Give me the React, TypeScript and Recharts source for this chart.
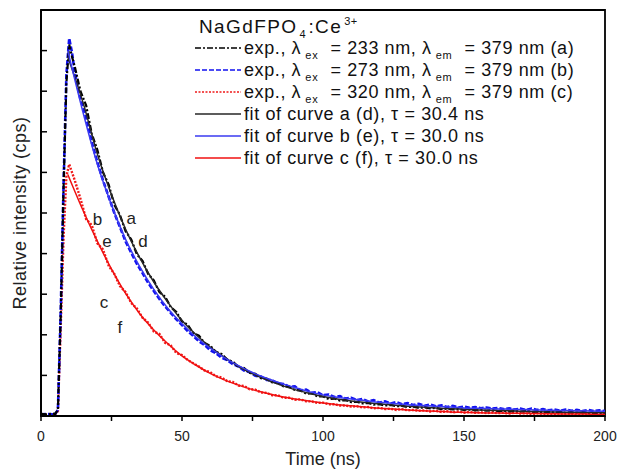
import { LineChart, Line, XAxis, YAxis, Legend, ReferenceDot, ReferenceArea } from 'recharts';

// time grid of the measured decays (ns)
const expTime = [
  0, 2, 4, 5, 6, 7, 8, 9, 10, 11,
  12, 14, 16, 18, 20, 22, 24, 26, 28, 30,
  32, 34, 36, 38, 40, 42, 44, 46, 48, 50,
  52, 54, 56, 58, 60, 62, 64, 66, 68, 70,
  72, 74, 76, 78, 80, 82, 84, 86, 88, 90,
  92, 94, 96, 98, 100, 102, 104, 106, 108, 110,
  112, 114, 116, 118, 120, 122, 124, 126, 128, 130,
  132, 134, 136, 138, 140, 142, 144, 146, 148, 150,
  152, 154, 156, 158, 160, 162, 164, 166, 168, 170,
  172, 174, 176, 178, 180, 182, 184, 186, 188, 190,
  192, 194, 196, 198, 200,
];

// exp. curve a (λex = 233 nm)
const expA = [
  0.05, 0.04, 0.06, 0.05, 0.15, 2.5, 5.6, 8.2, 9.15, 8.85,
  8.6, 8.0, 7.65, 6.95, 6.55, 6.0, 5.7, 5.2, 4.95, 4.55,
  4.35, 3.98, 3.82, 3.5, 3.34, 3.05, 2.94, 2.68, 2.56, 2.33,
  2.25, 2.04, 1.98, 1.8, 1.73, 1.58, 1.53, 1.39, 1.34, 1.21,
  1.18, 1.06, 1.04, 0.93, 0.92, 0.83, 0.82, 0.73, 0.72, 0.64,
  0.63, 0.55, 0.56, 0.48, 0.48, 0.42, 0.43, 0.38, 0.39, 0.34,
  0.35, 0.31, 0.32, 0.28, 0.29, 0.26, 0.27, 0.24, 0.25, 0.22,
  0.23, 0.2, 0.21, 0.19, 0.2, 0.17, 0.18, 0.16, 0.17, 0.15,
  0.16, 0.14, 0.15, 0.13, 0.14, 0.12, 0.13, 0.11, 0.12, 0.11,
  0.12, 0.1, 0.11, 0.09, 0.1, 0.09, 0.1, 0.08, 0.09, 0.08,
  0.09, 0.07, 0.08, 0.07, 0.08,
];

// exp. curve b (λex = 273 nm)
const expB = [
  0.04, 0.05, 0.04, 0.05, 0.15, 2.6, 5.7, 8.4, 9.3, 8.95,
  8.45, 7.8, 7.35, 6.75, 6.25, 5.8, 5.4, 5.0, 4.65, 4.3,
  4.02, 3.75, 3.52, 3.28, 3.08, 2.88, 2.7, 2.54, 2.38, 2.24,
  2.09, 1.97, 1.84, 1.75, 1.62, 1.55, 1.44, 1.38, 1.28, 1.22,
  1.12, 1.08, 0.99, 0.97, 0.89, 0.88, 0.8, 0.79, 0.72, 0.73,
  0.63, 0.65, 0.57, 0.59, 0.51, 0.53, 0.47, 0.49, 0.43, 0.45,
  0.39, 0.42, 0.36, 0.39, 0.33, 0.36, 0.31, 0.34, 0.29, 0.32,
  0.27, 0.3, 0.25, 0.28, 0.24, 0.26, 0.22, 0.25, 0.21, 0.23,
  0.2, 0.22, 0.19, 0.21, 0.18, 0.2, 0.17, 0.19, 0.16, 0.18,
  0.15, 0.18, 0.15, 0.17, 0.14, 0.16, 0.13, 0.16, 0.13, 0.15,
  0.12, 0.15, 0.12, 0.14, 0.12,
];

// exp. curve c (λex = 320 nm)
const expC = [
  0.03, 0.04, 0.03, 0.04, 0.12, 2.2, 4.4, 5.9, 6.2, 6.0,
  5.8, 5.35, 4.85, 4.7, 4.25, 4.1, 3.7, 3.5, 3.2, 3.05,
  2.78, 2.65, 2.42, 2.3, 2.08, 2.02, 1.8, 1.74, 1.55, 1.5,
  1.38, 1.3, 1.22, 1.12, 1.08, 0.98, 0.95, 0.86, 0.84, 0.75,
  0.74, 0.66, 0.65, 0.58, 0.57, 0.51, 0.51, 0.45, 0.45, 0.4,
  0.41, 0.36, 0.36, 0.32, 0.33, 0.29, 0.29, 0.26, 0.26, 0.23,
  0.24, 0.21, 0.22, 0.19, 0.2, 0.17, 0.18, 0.15, 0.17, 0.14,
  0.15, 0.13, 0.14, 0.11, 0.13, 0.1, 0.12, 0.09, 0.11, 0.08,
  0.1, 0.08, 0.09, 0.07, 0.09, 0.07, 0.08, 0.06, 0.08, 0.06,
  0.07, 0.05, 0.07, 0.05, 0.06, 0.05, 0.06, 0.04, 0.06, 0.04,
  0.05, 0.04, 0.05, 0.03, 0.05,
];

// fitted decays
const fitTime = [
  9.5, 15, 20, 25, 30, 35, 40, 45, 50, 55,
  60, 65, 70, 75, 80, 85, 90, 95, 100, 105,
  110, 115, 120, 125, 130, 135, 140, 145, 150, 155,
  160, 165, 170, 175, 180, 185, 190, 195, 200,
];
const fitD = [
  8.85, 7.7, 6.45, 5.45, 4.6, 3.9, 3.3, 2.8, 2.35, 2.0,
  1.7, 1.45, 1.22, 1.04, 0.89, 0.76, 0.65, 0.56, 0.48, 0.42,
  0.37, 0.33, 0.3, 0.27, 0.24, 0.22, 0.2, 0.18, 0.165, 0.15,
  0.14, 0.13, 0.12, 0.11, 0.1, 0.095, 0.09, 0.085, 0.08,
];
const fitE = [
  9.0, 7.45, 6.2, 5.2, 4.35, 3.68, 3.12, 2.65, 2.27, 1.94,
  1.67, 1.44, 1.24, 1.07, 0.93, 0.81, 0.7, 0.6, 0.52, 0.46,
  0.42, 0.38, 0.34, 0.31, 0.28, 0.26, 0.24, 0.22, 0.2, 0.19,
  0.18, 0.17, 0.16, 0.15, 0.14, 0.135, 0.13, 0.125, 0.12,
];
const fitF = [
  5.95, 5.05, 4.3, 3.62, 3.02, 2.52, 2.12, 1.78, 1.48, 1.25,
  1.05, 0.89, 0.76, 0.65, 0.56, 0.48, 0.42, 0.37, 0.32, 0.28,
  0.25, 0.22, 0.19, 0.17, 0.15, 0.13, 0.12, 0.1, 0.09, 0.08,
  0.075, 0.07, 0.065, 0.06, 0.055, 0.05, 0.05, 0.045, 0.04,
];

const xTicks = [0, 25, 50, 75, 100, 125, 150, 175, 200];
const yTicks = [1, 2, 3, 4, 5, 6, 7, 8, 9];

const excitation = ['233', '273', '320'];
const fitTaus = ['30.4', '30.0', '30.0'];
const curveLetters = ['a', 'b', 'c'];
const fitLetters = ['d', 'e', 'f'];

// curve tags written next to the curves
const tags = [
  { text: 'b', t: 20, v: 4.85 },
  { text: 'a', t: 32, v: 4.88 },
  { text: 'e', t: 23.4, v: 4.3 },
  { text: 'd', t: 36.2, v: 4.3 },
  { text: 'c', t: 22.3, v: 2.8 },
  { text: 'f', t: 28, v: 2.2 },
];

const expRows = expTime.map((t, i) => ({ t, a: expA[i], b: expB[i], c: expC[i] }));
const fitRows = fitTime.map((t, i) => ({ t, d: fitD[i], e: fitE[i], f: fitF[i] }));

const FONT = '"Liberation Sans", Arial, Helvetica, sans-serif';
const expStyle = [
  { color: '#000000', dash: '6 2 2 2' },
  { color: '#1010f0', dash: '5 2' },
  { color: '#f01818', dash: '2 1.5' },
];
const fitColors = ['#262626', '#3a3af0', '#f01010'];

const subStyle = { fontSize: 11, position: 'relative' as const, top: 5, lineHeight: 0, margin: '0 12px 0 4px', letterSpacing: 0.8 };

function YTick(props: any) {
  const { x, y } = props;
  return <line x1={x} x2={x + 6} y1={y} y2={y} stroke="#000" strokeWidth={1.5} />;
}

function LegendBox() {
  return (
    <div style={{ fontFamily: FONT, fontSize: 18, color: '#111', lineHeight: '22px', letterSpacing: 0.6 }}>
      <div style={{ paddingLeft: 4, height: 19, lineHeight: '18px', fontSize: 19, letterSpacing: 1.4 }}>
        NaGdFPO<span style={{ ...subStyle, margin: '0 2px 0 2px' }}>4</span>:Ce
        <span style={{ fontSize: 11, position: 'relative', top: -8, lineHeight: 0, letterSpacing: 0.5, marginLeft: 2 }}>3+</span>
      </div>
      {excitation.map((ex, i) => (
        <div key={'e' + i} style={{ display: 'flex', alignItems: 'center', height: 22 }}>
          <svg width={46} height={10} style={{ marginRight: 3 }}>
            <line x1={0} y1={5} x2={46} y2={5} stroke={expStyle[i].color} strokeWidth={1.5} strokeDasharray={expStyle[i].dash} />
          </svg>
          <span style={{ whiteSpace: 'nowrap' }}>
            exp., λ<span style={subStyle}>ex</span>= {ex} nm, λ<span style={subStyle}>em</span>= 379 nm ({curveLetters[i]})
          </span>
        </div>
      ))}
      {fitTaus.map((tau, i) => (
        <div key={'f' + i} style={{ display: 'flex', alignItems: 'center', height: 22 }}>
          <svg width={46} height={10} style={{ marginRight: 3 }}>
            <line x1={0} y1={5} x2={46} y2={5} stroke={fitColors[i]} strokeWidth={1.5} />
          </svg>
          <span style={{ whiteSpace: 'nowrap' }}>
            fit of curve {curveLetters[i]} ({fitLetters[i]}), τ = {tau} ns
          </span>
        </div>
      ))}
    </div>
  );
}

export default function App() {
  return (
    <div style={{ position: 'absolute', left: 0, top: 0, width: 619, height: 472, background: '#fff' }}>
      <LineChart width={619} height={472} data={expRows} margin={{ top: 10, right: 14, bottom: 2, left: 0 }}>
        <XAxis
          dataKey="t"
          type="number"
          domain={[0, 200]}
          ticks={xTicks}
          tickFormatter={(v: number) => (v % 50 === 0 ? String(v) : '')}
          tick={{ fill: '#222', fontSize: 14, fontFamily: FONT }}
          tickSize={5}
          tickMargin={10}
          height={54}
          axisLine={{ stroke: '#000', strokeWidth: 1.8 }}
          tickLine={{ stroke: '#000', strokeWidth: 1.5 }}
          allowDataOverflow
          label={{ value: 'Time (ns)', position: 'insideBottom', offset: 5, fill: '#222', fontSize: 18, fontFamily: FONT }}
        />
        <YAxis
          type="number"
          domain={[0, 10]}
          ticks={yTicks}
          tick={<YTick />}
          tickSize={0}
          tickMargin={0}
          tickLine={false}
          width={41}
          axisLine={{ stroke: '#000', strokeWidth: 1.8 }}
          allowDataOverflow
          label={{ value: 'Relative intensity (cps)', angle: -90, position: 'center', dx: -1, fill: '#222', fontSize: 18, letterSpacing: 0.5, fontFamily: FONT }}
        />
        <ReferenceArea x1={0} x2={200} y1={0} y2={10} fill="none" stroke="#000" strokeWidth={1.8} ifOverflow="visible" />
        <Legend
          layout="horizontal"
          verticalAlign="middle"
          align="center"
          wrapperStyle={{ left: 195, top: 18, width: 420, height: 162 }}
          content={() => <LegendBox />}
        />
        <Line type="linear" dataKey="c" stroke={expStyle[2].color} strokeWidth={2.4} strokeDasharray={expStyle[2].dash} dot={false} isAnimationActive={false} />
        <Line type="linear" dataKey="b" stroke={expStyle[1].color} strokeWidth={2.6} strokeDasharray={expStyle[1].dash} dot={false} isAnimationActive={false} />
        <Line type="linear" dataKey="a" stroke={expStyle[0].color} strokeWidth={2.2} strokeDasharray={expStyle[0].dash} dot={false} isAnimationActive={false} />
        <Line data={fitRows} type="monotone" dataKey="d" stroke={fitColors[0]} strokeWidth={1.5} dot={false} isAnimationActive={false} />
        <Line data={fitRows} type="monotone" dataKey="e" stroke={fitColors[1]} strokeWidth={1.5} dot={false} isAnimationActive={false} />
        <Line data={fitRows} type="monotone" dataKey="f" stroke={fitColors[2]} strokeWidth={1.5} dot={false} isAnimationActive={false} />
        {tags.map((g) => (
          <ReferenceDot
            key={g.text}
            x={g.t}
            y={g.v}
            r={0}
            fill="none"
            stroke="none"
            label={{ value: g.text, position: 'center', fill: '#222', fontSize: 17, fontFamily: FONT }}
          />
        ))}
      </LineChart>
    </div>
  );
}
